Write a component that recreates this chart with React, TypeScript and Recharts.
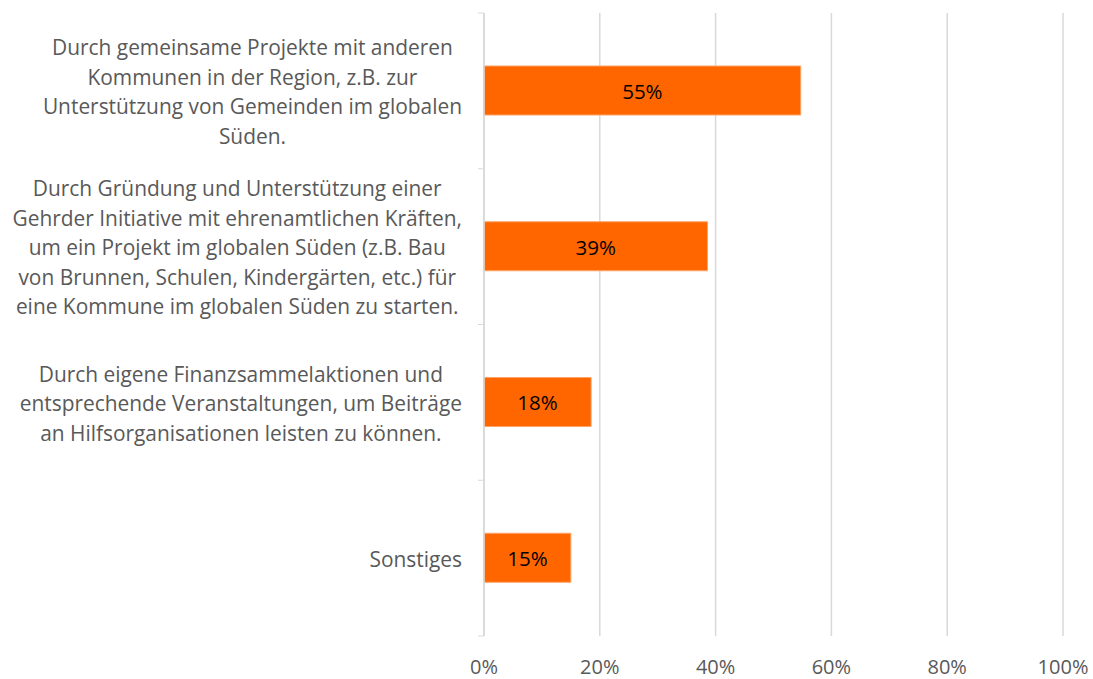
import React from 'react';
import { BarChart, Bar, XAxis, YAxis, CartesianGrid, LabelList } from 'recharts';

const categories = [
  'Durch gemeinsame Projekte mit anderen\nKommunen in der Region, z.B. zur\nUnterstützung von Gemeinden im globalen\nSüden.',
  'Durch Gründung und Unterstützung einer\nGehrder Initiative mit ehrenamtlichen Kräften,\num ein Projekt im globalen Süden (z.B. Bau\nvon Brunnen, Schulen, Kindergärten, etc.) für\neine Kommune im globalen Süden zu starten.',
  'Durch eigene Finanzsammelaktionen und\nentsprechende Veranstaltungen, um Beiträge\nan Hilfsorganisationen leisten zu können.',
  'Sonstiges',
];
const values = [54.7, 38.6, 18.5, 15.0];
const valueLabels = ['55%', '39%', '18%', '15%'];
const xTicks = [0, 20, 40, 60, 80, 100];

const data = categories.map((c, i) => ({ name: c, value: values[i], label: valueLabels[i] }));

const W = 1093;
const H = 679;
const M = { top: 13, right: 30, bottom: 0, left: 0 };
const Y_W = 484;
const X_H = 43;
const FONT = '"Open Sans", sans-serif';
const LABEL_SIZE = 20.9;
const LINE_H = 29.5;
const GREY = '#595959';
const GRID = '#d9d9d9';

let ctx: CanvasRenderingContext2D | null = null;
function measure(t: string, size: number) {
  if (!ctx) {
    const c = document.createElement('canvas');
    ctx = c.getContext('2d');
  }
  if (!ctx) return t.length * size * 0.5;
  ctx.font = `${size}px "Open Sans"`;
  return ctx.measureText(t).width;
}

const band = (H - M.top - M.bottom - X_H) / categories.length;

const YTick = (props: any) => {
  const { x, y, payload, index } = props;
  const lines: string[] = String(payload.value).split('\n');
  const maxW = Math.max(...lines.map((l) => measure(l, LABEL_SIZE)));
  const cx = x - maxW / 2;
  const n = lines.length;
  const axisX = x + 22;
  return (
    <g>
      <line x1={axisX - 6} x2={axisX} y1={y - band / 2} y2={y - band / 2} stroke={GRID} />
      {index === categories.length - 1 && (
        <line x1={axisX - 6} x2={axisX} y1={y + band / 2} y2={y + band / 2} stroke={GRID} />
      )}
      <text textAnchor="middle" fill={GREY} fontSize={LABEL_SIZE} fontFamily={FONT}>
        {lines.map((l, i) => (
          <tspan key={i} x={cx} y={y + 1.5 + (i - (n - 1) / 2) * LINE_H} dy="0.35em">
            {l}
          </tspan>
        ))}
      </text>
    </g>
  );
};

export default function App() {
  return (
    <div style={{ position: 'absolute', left: 0, top: 0, width: W, height: H, background: '#fff' }}>
      <BarChart width={W} height={H} data={data} layout="vertical" margin={M}>
        <CartesianGrid horizontal={false} stroke={GRID} strokeWidth={1.5} />
        <XAxis
          type="number"
          domain={[0, 100]}
          ticks={xTicks}
          tickFormatter={(v: number) => `${v}%`}
          axisLine={false}
          tickLine={false}
          tickSize={0}
          tickMargin={24}
          height={X_H}
          tick={{ fill: GREY, fontSize: 20, fontFamily: FONT }}
          interval={0}
        />
        <YAxis
          type="category"
          dataKey="name"
          width={Y_W}
          axisLine={{ stroke: GRID, strokeWidth: 1.5 }}
          tickLine={false}
          tickSize={0}
          tickMargin={22}
          tick={<YTick />}
          interval={0}
        />
        <Bar dataKey="value" fill="#FF6600" stroke="#FFA366" strokeWidth={1} barSize={49} isAnimationActive={false}>
          <LabelList dataKey="label" position="center" fill="#000" fontSize={20.5} fontFamily={FONT} dy={1} />
        </Bar>
      </BarChart>
    </div>
  );
}
